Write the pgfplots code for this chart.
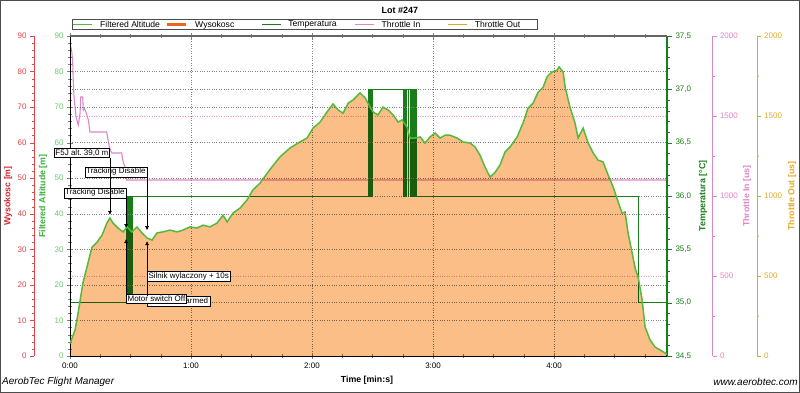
\documentclass[border=0pt]{standalone}
\usepackage{fontspec}
\setmainfont{Liberation Sans}
\usepackage{pgfplots}
\usepackage{pgfplotstable}
\pgfplotsset{compat=1.18}
\usetikzlibrary{arrows.meta}
\frenchspacing
\definecolor{altgreen}{RGB}{85,185,60}
\definecolor{altlab}{RGB}{110,200,110}
\definecolor{altlabel}{RGB}{60,175,60}
\definecolor{fillor}{RGB}{252,190,135}
\definecolor{wysor}{RGB}{240,100,30}
\definecolor{wysred}{RGB}{225,70,70}
\definecolor{wyslabel}{RGB}{210,40,50}
\definecolor{tempgreen}{RGB}{25,125,25}
\definecolor{thrpink}{RGB}{220,135,200}
\definecolor{throut}{RGB}{215,175,35}
\definecolor{throutlab}{RGB}{230,170,40}
\definecolor{gridgray}{RGB}{130,130,130}

\pgfplotstableread{
t alt
0 3.5
2.5 7.3
4.0 12
6.4 20.5
8.4 25
10.9 30.6
13.4 32
15.9 34
18.3 37.4
19.8 38.8
21.3 37.4
23.8 36
26.3 34.9
28.3 36.3
30.7 34.9
33.2 36.3
35.7 34.6
38.2 33.2
40.7 32.6
43.1 34.6
46.1 34.9
49.6 35.4
53.1 34.9
56.0 35.4
59.5 36.3
63.0 36
66.0 36.8
69.4 36.3
72.9 37.4
75.9 39.6
77.9 37.7
80.8 40.2
84.3 41.6
87.8 43.9
90.7 46.7
94.2 48.6
99.2 52.5
104.1 56
109.1 58.5
114.0 60.2
117.5 61.3
120.5 64.1
124.0 65.8
127.4 68.6
130.4 70.9
132.9 69.2
135.4 68.3
137.9 71.1
140.3 72
143.8 74
146.3 72.6
148.8 70
150.3 68.6
152.7 67.8
155.2 70
157.7 69.2
160.2 67.8
162.7 65.8
164.6 66.4
167.1 64.4
168.6 61.3
171.1 61.3
173.6 61.6
176.0 59.9
178.5 61.6
181.0 62.7
183.5 61.3
186.0 62.1
188.4 62.1
191.9 61.3
194.9 60.2
198.4 59.9
200.8 58.8
203.3 56.5
205.8 53.1
208.3 50.3
210.8 51.7
213.2 53.7
215.7 57.4
218.2 58.8
221.7 61.6
224.6 65.5
227.1 69.7
229.6 71.1
232.1 74.2
234.6 75.6
236.5 78.5
239.0 79.9
241.5 80.4
242.5 81.3
244.5 79.9
245.5 75.6
247.9 70
250.4 65.5
251.9 61.3
254.4 64.1
256.9 59.9
259.4 57.1
261.8 55.1
264.3 54.6
266.8 50.9
269.3 47.5
271.8 43.3
273.7 40.2
275.2 40.5
276.7 34.6
278.7 29
280.2 24.7
281.7 22.2
283.7 15.7
285.1 8.2
287.6 4.5
290.1 2.5
292.6 1.7
296.0 0.5
}\altdata

\pgfplotsset{
  base/.style={scale only axis, width=597pt, height=320pt, at={(70pt,37pt)},
    anchor=south west, xmin=0, xmax=296,
    /pgf/number format/assume math mode=true,
    tick label style={font=\fontsize{8}{9}\selectfont}},
  dummy/.style={scale only axis, width=1pt, height=320pt, xmin=0, xmax=1,
    axis x line=none, tick align=outside, major tick length=4pt, minor tick length=2.5pt,
    /pgf/number format/assume math mode=true, /pgf/number format/1000 sep={},
    tick label style={font=\fontsize{8}{9}\selectfont}},
}
\tikzset{annot/.style={draw=black, fill=white, inner sep=1.3pt, line width=0.5pt,
  font=\fontsize{8}{9}\selectfont}}

\begin{document}
\begin{tikzpicture}[x=1pt,y=1pt]
\useasboundingbox (0,0) rectangle (800,393);
\fill[white] (0,0) rectangle (800,393);
\draw[gray!60!black, line width=1pt] (0.5,0.5) rectangle (799.5,392.5);

% Throttle In data
\begin{axis}[base, ymin=0, ymax=2000, axis line style={draw=none}, xtick=\empty,
  ytick={500,1000,1500}, yticklabels={}, major tick length=0pt,
  ymajorgrids, grid style={thrpink!80, dotted}]
\addplot[thrpink, line width=1.1pt] coordinates {
(0,1950) (0.8,1912) (1.3,1850) (1.6,1725) (2.0,1619) (3.0,1494) (4.1,1444)
(5.0,1519) (5.3,1619) (6.3,1619) (6.6,1537) (7.1,1550) (7.9,1525) (9.1,1475)
(9.9,1400) (18.2,1400) (19.5,1306) (20.7,1269) (25.6,1269) (26.4,1212)
(27.3,1181) (28.1,1100) (296,1100)};
\end{axis}

% Temperature
\begin{axis}[base, ymin=34.5, ymax=37.5, axis x line=none, axis y line*=right,
  y axis line style={tempgreen, line width=1.3pt},
  ytick={34.5,35,...,37.5}, minor y tick num=4, tick align=outside,
  major tick length=5pt, minor tick length=3pt, tick style={tempgreen},
  yticklabel style={tempgreen, /pgf/number format/.cd, fixed, fixed zerofill, precision=1, use comma},
  ymajorgrids, grid style={gridgray, dotted}]
\addplot[tempgreen, line width=0.7pt] coordinates {
(0,35) (27.8,35) (27.8,36) (28.4,36) (28.4,35) (28.9,35) (28.9,36) (29.4,36) (29.4,35)
(29.9,35) (29.9,36) (30.4,36) (30.4,35) (30.8,35) (30.8,36) (147.8,36) (147.8,37)
(148.3,37) (148.3,36) (148.8,36) (148.8,37) (149.3,37) (149.3,36) (149.9,36) (149.9,37)
(165.3,37) (165.3,36) (165.8,36) (165.8,37) (166.5,37) (166.5,36) (166.9,36) (166.9,37)
(167.6,37) (167.6,36) (168,36) (168,37) (168.5,37) (168.5,36) (168.9,36) (168.9,37)
(169.3,37) (169.3,36) (169.7,36) (169.7,37) (170.1,37) (170.1,36) (170.5,36) (170.5,37)
(170.9,37) (170.9,36) (171.3,36) (171.3,37) (171.7,37) (171.7,36) (281.7,36) (281.7,35)
(296,35)};
\end{axis}

% Main altitude axis
\begin{axis}[base, ymin=0, ymax=90, clip=false,
  axis x line*=box, axis y line*=left,
  x axis line style={black}, y axis line style={black},
  xtick={0,60,120,180,240}, xticklabels={0:00,1:00,2:00,3:00,4:00},
  minor xtick={15,30,45,75,90,105,135,150,165,195,210,225,255,270,285},
  ytick={0,10,...,90}, minor y tick num=4,
  yticklabel style={altlab},
  tick align=center, major tick length=6pt, minor tick length=4pt,
  xmajorgrids, ymajorgrids, grid style={gridgray, dotted},
  legend columns=5,
  legend style={at={(axis description cs:0,1)}, anchor=south west, xshift=1.5pt, yshift=6pt,
    draw=gray!60!black, line width=0.8pt, inner sep=0.5pt,
    nodes={inner sep=0.5pt}, font=\fontsize{8.6}{9}\selectfont,
    /tikz/every odd column/.append style={column sep=7pt}},
  legend image code/.code={\draw[#1] (0pt,0pt) -- (19pt,0pt);}]
\addlegendimage{altgreen, line width=1.3pt}
\addlegendentry{\makebox[65.5pt][l]{Filtered Altitude}}
\addlegendimage{wysor, line width=2.5pt}
\addlegendentry{\makebox[65.5pt][l]{Wysokosc}}
\addlegendimage{tempgreen, line width=0.7pt}
\addlegendentry{\makebox[65.5pt][l]{Temperatura}}
\addlegendimage{thrpink, line width=0.7pt}
\addlegendentry{\makebox[65.5pt][l]{Throttle In}}
\addlegendimage{throut, line width=0.7pt}
\addlegendentry{\makebox[62pt][l]{Throttle Out}}
\addplot[draw=none, fill=fillor, /tikz/blend mode=multiply, forget plot]
  table[x=t,y=alt]{\altdata} \closedcycle;
\addplot[altgreen, line width=1.5pt, forget plot] table[x=t,y=alt]{\altdata};
\draw[gray!80!black, line width=1.2pt] (rel axis cs:0,1) -- (rel axis cs:1,1);
% annotations
\node[annot, anchor=south east] at (axis cs:19.8,55.7) {F5J alt. 39,0 m};
\node[annot, anchor=south east] at (axis cs:38.2,50.3) {Tracking Disable};
\node[annot, anchor=south east] at (axis cs:27.8,44.4) {Tracking Disable};
\node[annot, anchor=north west] at (axis cs:38.2,23.9) {Silnik wylaczony + 10s};
\draw[black, fill=white, line width=0.5pt] (axis cs:38.2,16.9) rectangle (axis cs:69.4,14.0);
\node[font=\fontsize{8}{9}\selectfont, anchor=east, inner sep=0pt] at (axis cs:68.6,15.45) {armed};
\node[annot, anchor=north west] at (axis cs:27.8,17.4) {Motor switch Off};
\draw[black, line width=0.5pt, -{Latex[length=4pt,width=4pt]}] (axis cs:19.8,55.7) -- (axis cs:19.8,39.7);
\draw[black, line width=0.5pt, -{Latex[length=4pt,width=4pt]}] (axis cs:38.2,50.3) -- (axis cs:38.2,35.4);
\draw[black, line width=0.5pt, -{Latex[length=4pt,width=4pt]}] (axis cs:27.8,44.4) -- (axis cs:27.8,36.0);
\draw[black, line width=0.5pt, -{Latex[length=4pt,width=4pt]}] (axis cs:38.2,16.9) -- (axis cs:38.2,32.3);
\draw[black, line width=0.5pt, -{Latex[length=4pt,width=4pt]}] (axis cs:27.8,17.4) -- (axis cs:27.8,32.9);
\end{axis}

% Wysokosc axis (left, red)
\begin{axis}[dummy, at={(34pt,37pt)}, anchor=south west, ymin=0, ymax=90,
  axis y line*=left, y axis line style={wysred}, tick style={wysred},
  ytick={0,10,...,90}, minor y tick num=4, yticklabel style={wysred}]
\addplot[draw=none] coordinates {(0,0)};
\end{axis}

% Throttle In axis
\begin{axis}[dummy, at={(712.5pt,37pt)}, anchor=south east, ymin=0, ymax=2000,
  axis y line*=right, y axis line style={thrpink}, tick style={thrpink},
  ytick={0,500,...,2000}, minor y tick num=1, yticklabel style={thrpink}]
\addplot[draw=none] coordinates {(0,0)};
\end{axis}

% Throttle Out axis
\begin{axis}[dummy, at={(756.7pt,37pt)}, anchor=south east, ymin=0, ymax=2000,
  axis y line*=right, y axis line style={throut}, tick style={throut},
  ytick={0,500,...,2000}, minor y tick num=1, yticklabel style={throutlab}]
\addplot[draw=none] coordinates {(0,0)};
\end{axis}

% axis labels and texts
\node[rotate=90, font=\bfseries\fontsize{8.8}{10}\selectfont, text=wyslabel] at (8,197) {Wysokosc [m]};
\node[rotate=90, font=\bfseries\fontsize{8.8}{10}\selectfont, text=altlabel] at (43,197) {Filtered Altitude [m]};
\node[rotate=90, font=\bfseries\fontsize{8.8}{10}\selectfont, text=tempgreen] at (703,197) {Temperatura [°C]};
\node[rotate=90, font=\bfseries\fontsize{8.8}{10}\selectfont, text=thrpink] at (747,197) {Throttle In [us]};
\node[rotate=90, font=\bfseries\fontsize{8.8}{10}\selectfont, text=throutlab] at (792,197) {Throttle Out [us]};
\node[font=\bfseries\fontsize{9}{10}\selectfont] at (400,383) {Lot \#247};
\node[font=\bfseries\fontsize{8.8}{10}\selectfont] at (367,13) {Time [min:s]};
\node[font=\itshape\fontsize{10}{11}\selectfont, anchor=west, inner sep=0pt] at (2,11) {AerobTec Flight Manager};
\node[font=\itshape\fontsize{10}{11}\selectfont, anchor=east, inner sep=0pt] at (798,11) {www.aerobtec.com};
\end{tikzpicture}
\end{document}
